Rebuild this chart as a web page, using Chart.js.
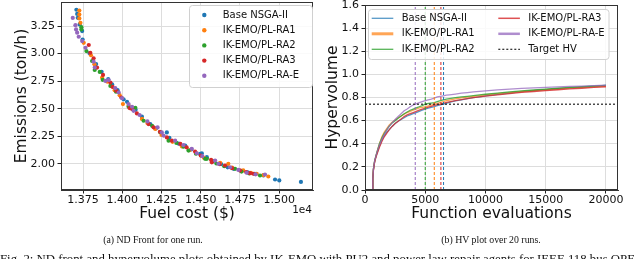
<!DOCTYPE html>
<html><head><meta charset="utf-8">
<script src="https://cdn.jsdelivr.net/npm/chart.js@4.4.1/dist/chart.umd.min.js"></script>
<style>
html,body{margin:0;padding:0;background:#fff;width:640px;height:259px;overflow:hidden;position:relative}
#c1{position:absolute;left:0;top:0;}
#c2{position:absolute;left:320px;top:0;}
.cap{position:absolute;font-family:"Liberation Serif","Times New Roman",serif;color:#111;white-space:nowrap}
</style></head><body>
<canvas id="c1" width="320" height="235"></canvas>
<canvas id="c2" width="320" height="235"></canvas>
<div class="cap" style="left:53px;width:200px;text-align:center;top:233.5px;font-size:9.8px;line-height:12px">(a) ND Front for one run.</div>
<div class="cap" style="left:391px;width:200px;text-align:center;top:233.5px;font-size:9.8px;line-height:12px">(b) HV plot over 20 runs.</div>
<div class="cap" style="left:0px;top:252.5px;font-size:12.8px;line-height:12.8px">Fig. 2: ND front and hypervolume plots obtained by IK-EMO with PU2 and power law repair agents for IEEE 118 bus OPF</div>
<script>
// ---------- data: ND front (fuel cost $, emissions ton/h) ----------
const seriesNames = ['Base NSGA-II','IK-EMO/PL-RA1','IK-EMO/PL-RA2','IK-EMO/PL-RA3','IK-EMO/PL-RA-E'];
const fuelBase = [13707,13712,13716,13728,13744,13747,13790,13833,13868,13910,13935,13970,14008,14030,14085,14125,14178,14215,14284,14300,14360,14401,14440,14496,14507,14539,14580,14630,14672,14710,14760,14800,14845,14900,14974,15001,15139];
const emisBase = [3.398,3.360,3.325,3.265,3.205,3.128,3.005,2.905,2.835,2.768,2.722,2.668,2.585,2.563,2.490,2.428,2.361,2.322,2.285,2.236,2.183,2.165,2.130,2.090,2.096,2.060,2.025,1.998,1.968,1.955,1.935,1.922,1.908,1.895,1.858,1.849,1.836];
const fuelRA1 = [13726,13726,13726,13733,13754,13800,13822,13871,13905,13951,13983,14004,14040,14125,14160,14210,14250,14320,14380,14430,14470,14520,14570,14624,14676,14700,14771,14820,14857,14900,14931];
const emisRA1 = [3.391,3.355,3.319,3.279,3.098,2.985,2.903,2.782,2.745,2.668,2.623,2.542,2.528,2.407,2.370,2.316,2.262,2.200,2.158,2.125,2.098,2.055,2.028,2.009,2.000,1.965,1.940,1.918,1.910,1.898,1.885];
const fuelRA2 = [13739,13739,13771,13807,13824,13856,13875,13924,13960,14040,14083,14136,14190,14240,14295,14345,14390,14422,14470,14528,14539,14600,14650,14719,14760,14810,14878];
const emisRA2 = [3.240,3.219,3.023,2.933,2.852,2.834,2.762,2.707,2.655,2.518,2.508,2.391,2.345,2.288,2.210,2.190,2.155,2.120,2.092,2.045,2.045,2.003,1.978,1.955,1.930,1.912,1.894];
const fuelRA3 = [13786,13796,13817,13839,13877,13924,13938,13962,13994,14046,14062,14093,14167,14199,14240,14284,14316,14370,14410,14464,14500,14566,14571,14620,14655,14700,14750,14790,14814,14835];
const emisRA3 = [3.078,3.008,2.958,2.873,2.807,2.737,2.698,2.662,2.602,2.506,2.497,2.457,2.361,2.331,2.290,2.240,2.210,2.181,2.150,2.111,2.075,2.036,2.014,1.998,1.985,1.960,1.940,1.925,1.915,1.910];
const fuelRAE = [13684,13701,13705,13712,13722,13744,13765,13817,13824,13892,13913,13955,13977,13998,14040,14062,14072,14110,14160,14225,14252,14263,14337,14390,14443,14475,14510,14592,14613,14687,14740,14793,14850,14910];
const emisRAE = [3.324,3.258,3.220,3.190,3.153,3.114,3.053,2.927,2.873,2.752,2.760,2.687,2.647,2.596,2.542,2.518,2.481,2.443,2.385,2.330,2.285,2.256,2.210,2.170,2.136,2.096,2.070,2.030,2.000,1.969,1.945,1.919,1.905,1.903];
const fuelTicks = [13750,14000,14250,14500,14750,15000];
const emisTicks = [2.00,2.25,2.50,2.75,3.00,3.25];

// ---------- data: hypervolume vs function evaluations ----------
const hvEvals = [600,650,700,800,900,1000,1200,1400,1600,1800,2000,2250,2500,2750,3000,3250,3500,3750,4000,4250,4500,4750,5000,5250,5500,5750,6000,6250,6500,6750,7000,7500,8000,8500,9000,9500,10000,11000,12000,13000,14000,15000,16000,17000,18000,19000,20000];
const hvBase = [0,0.10,0.18,0.25,0.29,0.32,0.38,0.43,0.47,0.50,0.52,0.55,0.575,0.595,0.61,0.625,0.64,0.65,0.66,0.67,0.68,0.69,0.70,0.708,0.715,0.722,0.73,0.737,0.742,0.75,0.758,0.77,0.78,0.79,0.798,0.806,0.814,0.827,0.839,0.85,0.859,0.868,0.876,0.884,0.891,0.898,0.905];
const hvRA1 = [0,0.10,0.18,0.25,0.29,0.33,0.40,0.46,0.50,0.53,0.56,0.585,0.605,0.625,0.64,0.655,0.67,0.68,0.69,0.70,0.71,0.715,0.72,0.727,0.735,0.742,0.75,0.757,0.765,0.772,0.778,0.788,0.797,0.804,0.81,0.816,0.822,0.833,0.843,0.852,0.86,0.867,0.874,0.881,0.887,0.893,0.899];
const hvRA2 = [0,0.10,0.18,0.25,0.29,0.33,0.40,0.45,0.49,0.52,0.55,0.58,0.60,0.62,0.64,0.66,0.675,0.69,0.70,0.71,0.72,0.73,0.742,0.748,0.752,0.756,0.765,0.772,0.78,0.785,0.79,0.798,0.805,0.81,0.816,0.822,0.828,0.838,0.848,0.857,0.865,0.873,0.88,0.887,0.893,0.899,0.905];
const hvRA3 = [0,0.10,0.17,0.24,0.28,0.31,0.37,0.42,0.46,0.49,0.52,0.55,0.575,0.595,0.615,0.635,0.65,0.66,0.67,0.68,0.69,0.70,0.708,0.716,0.724,0.732,0.738,0.742,0.75,0.757,0.763,0.773,0.782,0.79,0.798,0.805,0.812,0.823,0.834,0.844,0.852,0.86,0.867,0.874,0.88,0.887,0.893];
const hvRAE = [0,0.10,0.18,0.25,0.29,0.33,0.39,0.44,0.48,0.52,0.55,0.58,0.61,0.635,0.66,0.685,0.70,0.72,0.735,0.745,0.755,0.765,0.773,0.78,0.787,0.795,0.805,0.81,0.815,0.82,0.823,0.83,0.837,0.843,0.848,0.853,0.858,0.866,0.873,0.879,0.884,0.888,0.892,0.896,0.899,0.902,0.906];
const targetEvals = [6520,5750,5000,6300,4170]; // evaluations where each series reaches target HV
const targetHV = 0.742;
const hvTicks = [0,0.2,0.4,0.6,0.8,1.0,1.2,1.4,1.6];
const evalTicks = [0,5000,10000,15000,20000];
const evalMax = 21000;

// ---------- styling ----------
const colors = ['#1f77b4','#ff7f0e','#2ca02c','#d62728','#9467bd'];
const lineColors = ['rgba(31,119,180,0.75)','rgba(255,127,14,0.7)','rgba(44,160,44,0.8)','rgba(214,39,40,0.8)','rgba(148,103,189,0.75)'];
const legendLineW = [1.3,3,1.3,1.5,2.5];
const FONT = '"DejaVu Sans", Verdana, sans-serif';
const TXT = '#111';

const zeroPad = s => { s.paddingTop = 0; s.paddingBottom = 0; s.paddingLeft = 0; s.paddingRight = 0; };

function roundRect(ctx, x, y, w, h, r) {
  ctx.beginPath();
  ctx.moveTo(x + r, y);
  ctx.lineTo(x + w - r, y); ctx.quadraticCurveTo(x + w, y, x + w, y + r);
  ctx.lineTo(x + w, y + h - r); ctx.quadraticCurveTo(x + w, y + h, x + w - r, y + h);
  ctx.lineTo(x + r, y + h); ctx.quadraticCurveTo(x, y + h, x, y + h - r);
  ctx.lineTo(x, y + r); ctx.quadraticCurveTo(x, y, x + r, y);
  ctx.closePath();
}

const framePlugin = {
  id: 'frame',
  afterDatasetsDraw(chart) {
    const {ctx, chartArea: a} = chart;
    ctx.save();
    ctx.strokeStyle = '#333'; ctx.lineWidth = 1;
    ctx.strokeRect(Math.round(a.left) + 0.5, Math.round(a.top) + 0.5, Math.round(a.right - a.left) - 1, Math.round(a.bottom - a.top) - 1);
    ctx.restore();
  }
};

const legend1 = {
  id: 'legend1',
  afterDraw(chart) {
    const ctx = chart.ctx;
    ctx.save();
    roundRect(ctx, 189.5, 5.5, 123, 82, 3);
    ctx.fillStyle = 'rgba(255,255,255,0.85)'; ctx.fill();
    ctx.strokeStyle = '#d0d0d0'; ctx.lineWidth = 1; ctx.stroke();
    ctx.font = '10px ' + FONT; ctx.textBaseline = 'middle'; ctx.textAlign = 'left';
    seriesNames.forEach((n, i) => {
      const y = 15 + i * 15.2;
      ctx.fillStyle = colors[i];
      ctx.beginPath(); ctx.arc(204.3, y, 2.2, 0, Math.PI * 2); ctx.fill();
      ctx.fillStyle = TXT; ctx.fillText(n, 222.7, y);
    });
    // offset text
    ctx.font = '10.5px ' + FONT; ctx.textAlign = 'right'; ctx.fillStyle = TXT;
    ctx.fillText('1e4', 312, 210.5);
    ctx.restore();
  }
};

const legend2 = {
  id: 'legend2',
  afterDraw(chart) {
    const ctx = chart.ctx;
    ctx.save();
    roundRect(ctx, 48.5, 9.5, 240.5, 50, 3);
    ctx.fillStyle = 'rgba(255,255,255,0.85)'; ctx.fill();
    ctx.strokeStyle = '#d0d0d0'; ctx.lineWidth = 1; ctx.stroke();
    ctx.font = '10px ' + FONT; ctx.textBaseline = 'middle'; ctx.textAlign = 'left';
    const names = seriesNames.concat(['Target HV']);
    names.forEach((n, i) => {
      const col = i < 3 ? 0 : 1;
      const row = i % 3;
      const y = 18.3 + row * 15.5;
      const x0 = col === 0 ? 51.7 : 178.3;
      ctx.beginPath();
      if (i < 5) {
        ctx.strokeStyle = lineColors[i]; ctx.lineWidth = legendLineW[i]; ctx.setLineDash([]);
      } else {
        ctx.strokeStyle = '#222'; ctx.lineWidth = 1.2; ctx.setLineDash([2, 2]);
      }
      ctx.moveTo(x0, y); ctx.lineTo(x0 + 21.6, y); ctx.stroke();
      ctx.setLineDash([]);
      ctx.fillStyle = TXT; ctx.fillText(n, x0 + 30, y);
    });
    ctx.restore();
  }
};

const commonGrid = {color: '#dddddd', lineWidth: 1, tickColor: '#222', tickLength: 3.5, tickWidth: 1};
const commonBorder = {color: '#333', width: 1};
const tickFont = {family: FONT, size: 11};
const titleFont = {family: FONT, size: 15.5};

// ---------- chart 1: ND front ----------
const fuelSets = [fuelBase, fuelRA1, fuelRA2, fuelRA3, fuelRAE];
const emisSets = [emisBase, emisRA1, emisRA2, emisRA3, emisRAE];
new Chart(document.getElementById('c1'), {
  type: 'scatter',
  data: {
    datasets: seriesNames.map((n, i) => ({
      label: n,
      data: fuelSets[i].map((x, k) => ({x: x, y: emisSets[i][k]})),
      backgroundColor: colors[i], borderWidth: 0, pointRadius: 2.1, pointHoverRadius: 2.1,
      order: 5 - i
    }))
  },
  options: {
    responsive: false, animation: false, devicePixelRatio: 1,
    layout: {padding: {top: 1, right: 7, left: 0, bottom: 0}},
    plugins: {legend: {display: false}, tooltip: {enabled: false}},
    scales: {
      x: {
        type: 'linear', min: 13609, max: 15216,
        afterBuildTicks: s => { s.ticks = fuelTicks.map(v => ({value: v})); },
        afterFit: s => { s.height = 45; zeroPad(s); },
        ticks: {font: tickFont, color: TXT, padding: 0, maxRotation: 0, autoSkip: false, callback: v => (v / 1e4).toFixed(3)},
        grid: commonGrid, border: commonBorder,
        title: {display: true, text: 'Fuel cost ($)', font: titleFont, color: TXT, padding: {top: 0, bottom: 11.7}}
      },
      y: {
        type: 'linear', min: 1.7625, max: 3.4675,
        afterBuildTicks: s => { s.ticks = emisTicks.map(v => ({value: v})); },
        afterFit: s => { s.width = 61; zeroPad(s); },
        ticks: {font: tickFont, color: TXT, padding: 2.5, autoSkip: false, callback: v => v.toFixed(2)},
        grid: commonGrid, border: commonBorder,
        title: {display: true, text: 'Emissions (ton/h)', font: titleFont, color: TXT, padding: {top: 12.4, bottom: 0}}
      }
    }
  },
  plugins: [framePlugin, legend1]
});

// ---------- chart 2: hypervolume ----------
const hvSets = [hvBase, hvRA1, hvRA2, hvRA3, hvRAE];
const hvDatasets = [];
seriesNames.forEach((n, i) => {
  hvDatasets.push({
    label: n,
    data: hvEvals.map((e, k) => ({x: e, y: hvSets[i][k]})),
    showLine: true, pointRadius: 0, borderColor: lineColors[i], borderWidth: 1.3, fill: false, tension: 0,
    order: 20 - i
  });
});
seriesNames.forEach((n, i) => {
  hvDatasets.push({
    label: n + ' target',
    data: [{x: targetEvals[i], y: hvTicks[0]}, {x: targetEvals[i], y: hvTicks[hvTicks.length - 1]}],
    showLine: true, pointRadius: 0, borderColor: colors[i], borderWidth: 1, borderDash: [3, 2], fill: false,
    order: 10 - i
  });
});
hvDatasets.push({
  label: 'Target HV',
  data: [{x: 0, y: targetHV}, {x: evalMax, y: targetHV}],
  showLine: true, pointRadius: 0, borderColor: '#222', borderWidth: 1.2, borderDash: [2, 2], fill: false,
  order: 1
});

new Chart(document.getElementById('c2'), {
  type: 'scatter',
  data: {datasets: hvDatasets},
  options: {
    responsive: false, animation: false, devicePixelRatio: 1,
    layout: {padding: {top: 5, right: 22, left: 0, bottom: 0}},
    plugins: {legend: {display: false}, tooltip: {enabled: false}},
    scales: {
      x: {
        type: 'linear', min: 0, max: evalMax,
        afterBuildTicks: s => { s.ticks = evalTicks.map(v => ({value: v})); },
        afterFit: s => { s.height = 45; zeroPad(s); },
        ticks: {font: tickFont, color: TXT, padding: 0, maxRotation: 0, autoSkip: false, callback: v => String(v)},
        grid: commonGrid, border: commonBorder,
        title: {display: true, text: 'Function evaluations', font: titleFont, color: TXT, padding: {top: 0, bottom: 11.7}}
      },
      y: {
        type: 'linear', min: 0, max: 1.6,
        afterBuildTicks: s => { s.ticks = hvTicks.map(v => ({value: v})); },
        afterFit: s => { s.width = 45; zeroPad(s); },
        ticks: {font: tickFont, color: TXT, padding: 2.5, autoSkip: false, callback: v => v.toFixed(1)},
        grid: commonGrid, border: commonBorder,
        title: {display: true, text: 'Hypervolume', font: titleFont, color: TXT, padding: {top: 4, bottom: 0}}
      }
    }
  },
  plugins: [framePlugin, legend2]
});
</script>
</body></html>
